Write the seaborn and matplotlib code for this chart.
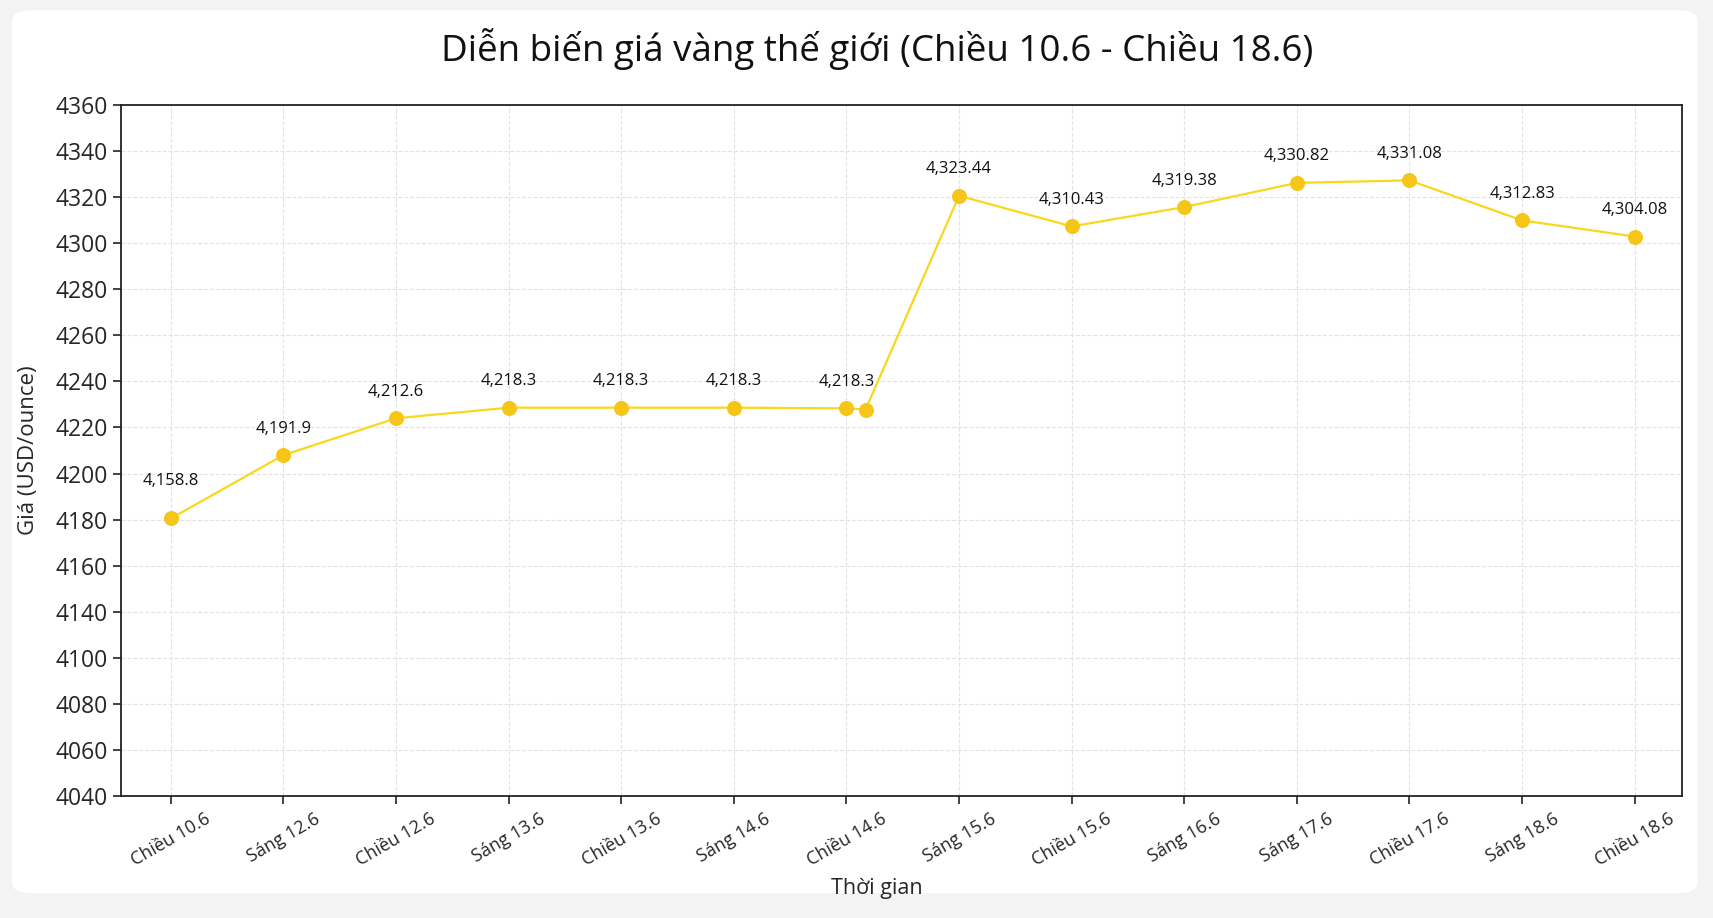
import numpy as np
import seaborn as sns
import matplotlib.pyplot as plt
from matplotlib.patches import FancyBboxPatch

# Dữ liệu
time_labels = ["Chiều 10.6", "Sáng 12.6", "Chiều 12.6", "Sáng 13.6", "Chiều 13.6",
               "Sáng 14.6", "Chiều 14.6", "Sáng 15.6", "Chiều 15.6", "Sáng 16.6",
               "Sáng 17.6", "Chiều 17.6", "Sáng 18.6", "Chiều 18.6"]
# vị trí điểm trên trục x (có một điểm phụ ngay sau Chiều 14.6)
point_x = [0, 1, 2, 3, 4, 5, 6, 6.17, 7, 8, 9, 10, 11, 12, 13]
# vị trí điểm trên trục y, đọc theo nhãn trục
point_y = [4180.5, 4208.0, 4224.0, 4228.6, 4228.6, 4228.6, 4228.3, 4227.8,
           4320.6, 4307.3, 4315.7, 4326.2, 4327.3, 4309.9, 4302.9]
# giá ghi trên từng mốc thời gian
price_notes = [4158.8, 4191.9, 4212.6, 4218.3, 4218.3, 4218.3, 4218.3,
               4323.44, 4310.43, 4319.38, 4330.82, 4331.08, 4312.83, 4304.08]
# nhãn trục y như trong hình (thiếu 4120)
y_tick_labels = ["4040", "4060", "4080", "4100", "4140", "4160", "4180", "4200",
                 "4220", "4240", "4260", "4280", "4300", "4320", "4340", "4360"]

sns.set_theme(style="whitegrid")
plt.rcParams['font.family'] = ['Open Sans', 'DejaVu Sans']

fig = plt.figure(figsize=(17.13, 9.18), dpi=100, facecolor='#f3f3f3')
fig.patches.append(FancyBboxPatch((0.007, 0.027), 0.984, 0.962,
                                  boxstyle="round,pad=0,rounding_size=0.012",
                                  transform=fig.transFigure, facecolor='white',
                                  edgecolor='none', zorder=-1))
ax = fig.add_axes([0.0708, 0.1329, 0.9111, 0.7527])
ax.set_facecolor('white')

sns.lineplot(x=point_x, y=point_y, ax=ax, color='#F9D71C', linewidth=1.6,
             marker='o', markersize=10, markerfacecolor='#F5C518',
             markeredgecolor='#F5C518', estimator=None, sort=False, zorder=3)

# nhãn giá trên mỗi mốc (bỏ qua điểm phụ)
label_idx = [i for i, x in enumerate(point_x) if float(x).is_integer()]
for k, i in enumerate(label_idx):
    dy = 27 if k == 0 else 19
    ax.annotate(f"{price_notes[k]:,}", (point_x[i], point_y[i]),
                xytext=(0, dy), textcoords='offset points',
                ha='center', va='center', fontsize=12, color='#111111')

ax.set_xlim(-0.44, 13.42)
ax.set_ylim(4060, 4360)
ax.set_yticks(np.arange(4060, 4361, 20))
ax.set_yticklabels(y_tick_labels, fontsize=16.5)
ax.set_xticks(range(len(time_labels)))
ax.set_xticklabels(time_labels, rotation=30, ha='center', fontsize=13)

ax.grid(True, linestyle='--', color='#e3e3e3', linewidth=0.8)
for s in ax.spines.values():
    s.set_visible(True)
    s.set_color('#222222')
    s.set_linewidth(1.3)
ax.tick_params(axis='both', which='both', direction='out', length=6, width=1.2,
               color='#222222', bottom=True, left=True, pad=4)

ax.set_xlabel("Thời gian", fontsize=15.5, labelpad=8)
ax.set_ylabel("Giá (USD/ounce)", fontsize=16, labelpad=8)
ax.xaxis.set_label_coords(0.484, -0.118)
ax.yaxis.set_label_coords(-0.053, 0.5)

fig.text(0.512, 0.947, "Diễn biến giá vàng thế giới (Chiều 10.6 - Chiều 18.6)",
         ha='center', va='center', fontsize=26.5, color='#111111')

fig.savefig("out.png", dpi=100, facecolor=fig.get_facecolor())
